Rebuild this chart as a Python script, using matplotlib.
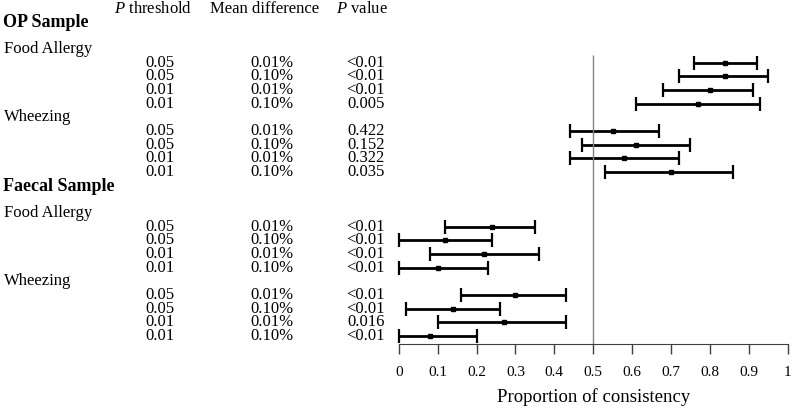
import numpy as np
import matplotlib.pyplot as plt
import matplotlib.transforms as mtransforms

plt.rcParams['font.family'] = 'Liberation Serif'
plt.rcParams['mathtext.fontset'] = 'custom'
plt.rcParams['mathtext.rm'] = 'Liberation Serif'
plt.rcParams['mathtext.it'] = 'Liberation Serif:italic'

# table columns (same order within every outcome block)
thresholds = ['0.05', '0.05', '0.01', '0.01']
mean_diffs = ['0.01%', '0.10%', '0.01%', '0.10%']

# OP sample
op_fa_p = ['<0.01', '<0.01', '<0.01', '0.005']
op_fa_mean = [0.84, 0.84, 0.80, 0.77]
op_fa_lo = [0.76, 0.72, 0.68, 0.61]
op_fa_hi = [0.92, 0.95, 0.91, 0.93]

op_wh_p = ['0.422', '0.152', '0.322', '0.035']
op_wh_mean = [0.55, 0.61, 0.58, 0.70]
op_wh_lo = [0.44, 0.47, 0.44, 0.53]
op_wh_hi = [0.67, 0.75, 0.72, 0.86]

# Faecal sample
fc_fa_p = ['<0.01', '<0.01', '<0.01', '<0.01']
fc_fa_mean = [0.24, 0.12, 0.22, 0.10]
fc_fa_lo = [0.12, 0.00, 0.08, 0.00]
fc_fa_hi = [0.35, 0.24, 0.36, 0.23]

fc_wh_p = ['<0.01', '<0.01', '0.016', '<0.01']
fc_wh_mean = [0.30, 0.14, 0.27, 0.08]
fc_wh_lo = [0.16, 0.02, 0.10, 0.00]
fc_wh_hi = [0.43, 0.26, 0.43, 0.20]

samples = ['OP Sample', 'Faecal Sample']
outcomes = ['Food Allergy', 'Wheezing']
blocks = [
    [(op_fa_p, op_fa_mean, op_fa_lo, op_fa_hi), (op_wh_p, op_wh_mean, op_wh_lo, op_wh_hi)],
    [(fc_fa_p, fc_fa_mean, fc_fa_lo, fc_fa_hi), (fc_wh_p, fc_wh_mean, fc_wh_lo, fc_wh_hi)],
]

W, H = 792, 409
fig = plt.figure(figsize=(W / 100, H / 100), dpi=100)
# axes spans from top of figure down to the x axis line
ax = fig.add_axes([398.7 / W, (H - 343.5) / H, 389 / W, 343.5 / H])
ax.set_xlim(0, 1)
ax.set_ylim(20.55, -4.58)  # row slots, top to bottom

tr = mtransforms.blended_transform_factory(fig.transFigure, ax.transData)
fx = lambda px: px / W

# column headers
ax.text(fx(153), -3.9, r'$\it{P}$ threshold', transform=tr, ha='center', va='center', fontsize=12)
ax.text(fx(265), -3.9, 'Mean difference', transform=tr, ha='center', va='center', fontsize=12)
ax.text(fx(361.5), -3.9, r'$\it{P}$ value', transform=tr, ha='center', va='center', fontsize=12)

sample_slots = [-2.95, 9.05]
for si, sample in enumerate(samples):
    ax.text(fx(3), sample_slots[si], sample, transform=tr, ha='left', va='center',
            fontsize=13, fontweight='bold')
    first = 0 if si == 0 else 12
    for oi, outcome in enumerate(outcomes):
        pvals, mean, lo, hi = blocks[si][oi]
        rows = first + oi * 5 + np.arange(4)
        ax.text(fx(4), rows[0] - 1, outcome, transform=tr, ha='left', va='center', fontsize=12)
        for r, th, md, pv in zip(rows, thresholds, mean_diffs, pvals):
            ax.text(fx(159.5), r, th, transform=tr, ha='center', va='center', fontsize=12)
            ax.text(fx(271.5), r, md, transform=tr, ha='center', va='center', fontsize=12)
            ax.text(fx(385), r, pv, transform=tr, ha='right', va='center', fontsize=12)
        mean = np.array(mean)
        ax.errorbar(mean, rows, xerr=[mean - np.array(lo), np.array(hi) - mean],
                    fmt='s', ms=3, color='black', ecolor='black', elinewidth=2,
                    capsize=5, capthick=1.6, clip_on=False)

ax.vlines(0.5, -0.56, 20.55, color='#808080', lw=1)

for s in ['top', 'right', 'left']:
    ax.spines[s].set_visible(False)
ax.spines['bottom'].set_color('#404040')
ax.set_yticks([])
ticks = np.arange(0, 1.01, 0.1)
ax.set_xticks(ticks)
ax.set_xticklabels(['0'] + ['%.1f' % t for t in ticks[1:-1]] + ['1'])
ax.tick_params(axis='x', direction='out', length=7, width=1, color='#404040',
               labelsize=11, pad=9)
ax.set_xlabel('Proportion of consistency', fontsize=13.5, labelpad=7)

fig.savefig('out.png', dpi=100)
